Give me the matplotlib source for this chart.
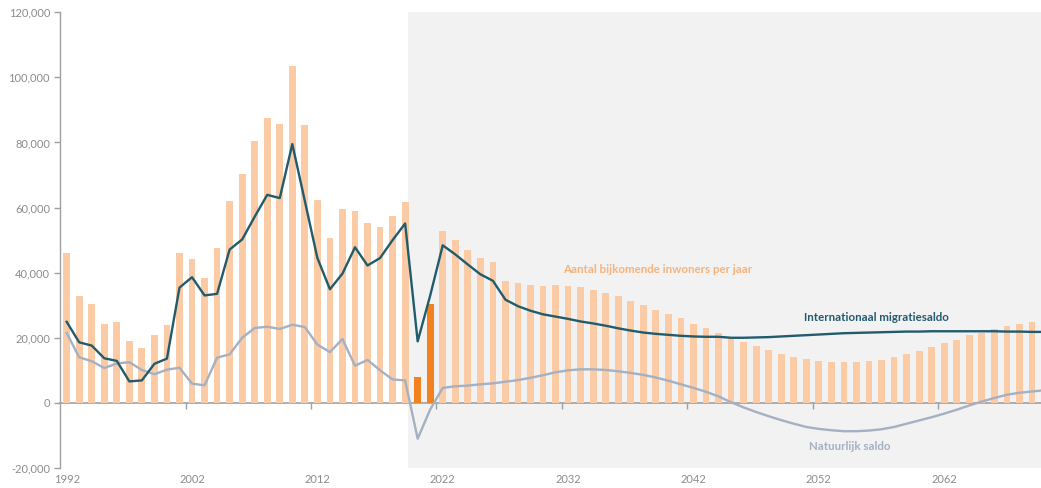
import matplotlib.pyplot as plt
from matplotlib.ticker import FuncFormatter

# jaren en reeksen (in duizenden)
years = list(range(1992, 2071))

bijkomend = [46.1, 32.7, 30.5, 24.2, 24.9, 19.0, 17.0, 20.8, 23.8, 46.1,
             44.3, 38.5, 47.7, 62.1, 70.2, 80.3, 87.5, 85.6, 103.5, 85.4,
             62.4, 50.5, 59.6, 58.9, 55.3, 53.9, 57.3, 61.8, 8.0, 30.3,
             52.7, 49.9, 47.1, 44.4, 43.2, 37.5, 36.7, 36.2, 36.0, 36.2,
             36.0, 35.5, 34.8, 33.9, 32.7, 31.4, 30.1, 28.6, 27.3, 26.0,
             24.3, 22.9, 21.5, 19.9, 18.7, 17.4, 16.3, 15.1, 14.2, 13.5,
             13.0, 12.6, 12.5, 12.6, 12.9, 13.3, 14.1, 15.0, 16.0, 17.2,
             18.3, 19.4, 20.7, 21.6, 22.7, 23.6, 24.3, 24.9]
highlight_years = [2020, 2021]

migratie = [24.9, 18.6, 17.6, 13.7, 12.9, 6.6, 6.9, 12.0, 13.6, 35.4,
            38.6, 33.0, 33.5, 47.1, 50.2, 57.2, 63.9, 62.9, 79.5, 62.0,
            44.5, 34.9, 39.7, 47.8, 42.2, 44.5, 50.0, 55.1, 18.9, 33.0,
            48.4, 45.6, 42.5, 39.5, 37.5, 31.7, 29.7, 28.3, 27.2, 26.5,
            25.8, 25.0, 24.4, 23.7, 22.9, 22.2, 21.6, 21.2, 20.9, 20.6,
            20.4, 20.3, 20.3, 20.0, 20.0, 20.1, 20.2, 20.4, 20.6, 20.8,
            21.0, 21.2, 21.4, 21.5, 21.6, 21.7, 21.8, 21.9, 21.9, 22.0,
            22.0, 22.0, 22.0, 22.0, 22.0, 21.9, 21.9, 21.8, 21.8]

natuurlijk = [21.5, 14.0, 12.8, 10.7, 12.1, 12.5, 10.1, 8.8, 10.2, 10.8,
              5.9, 5.4, 13.9, 14.9, 20.0, 23.0, 23.4, 22.7, 24.0, 23.3,
              17.9, 15.6, 19.6, 11.4, 13.2, 10.0, 7.2, 6.9, -11.0, -2.0,
              4.6, 5.1, 5.3, 5.7, 6.0, 6.5, 7.0, 7.7, 8.5, 9.4,
              10.0, 10.3, 10.3, 10.1, 9.7, 9.2, 8.6, 7.8, 6.8, 5.7,
              4.6, 3.4, 2.0, 0.2, -1.4, -2.8, -4.1, -5.3, -6.4, -7.4,
              -8.0, -8.4, -8.7, -8.7, -8.5, -8.1, -7.4, -6.4, -5.4, -4.4,
              -3.3, -2.1, -0.8, 0.4, 1.5, 2.5, 3.1, 3.5, 3.9]

forecast_start = 2019
tick_years = list(range(1992, 2071, 10))

plt.rcParams['font.family'] = ['Lato', 'DejaVu Sans']

fig = plt.figure(figsize=(10.41, 4.88), dpi=100)
ax = fig.add_axes([0.058, 0.041, 0.942, 0.934])

idx = list(range(len(years)))
bar_idx = idx[:len(bijkomend)]
bar_colors = ['#f28220' if years[i] in highlight_years else '#fbcba5' for i in bar_idx]

# prognose-gebied
ax.axvspan(years.index(forecast_start) + 0.22, 80, color='#f2f2f2', zorder=0, lw=0)

ax.bar(bar_idx, [v * 1000 for v in bijkomend], width=0.54, color=bar_colors, zorder=2)
ax.plot(idx, [v * 1000 for v in natuurlijk], color='#a5b0c2', lw=1.7, zorder=3)
ax.plot(idx, [v * 1000 for v in migratie], color='#215b6c', lw=1.7, zorder=4)

ax.set_xlim(-0.5, 77.72)
ax.set_ylim(-20000, 120000)
ax.set_yticks(range(-20000, 120001, 20000))
ax.yaxis.set_major_formatter(FuncFormatter(lambda v, p: f'{int(v):,}'))
ax.tick_params(axis='y', colors='#a0a0a0', labelcolor='#8c8c8c', labelsize=8, length=4, width=1)

ax.set_xticks([years.index(y) for y in tick_years])
ax.set_xticklabels([str(y) for y in tick_years])
ax.tick_params(axis='x', length=0, labelsize=8, labelcolor='#8c8c8c', pad=4)

for s in ['top', 'right', 'bottom']:
    ax.spines[s].set_visible(False)
ax.spines['left'].set_color('#a0a0a0')
ax.spines['left'].set_linewidth(1)

# nul-as met streepjes tussen de categorieen
zero_ax = ax.secondary_xaxis(20000 / 140000)
zero_ax.set_xticks([i + 9.5 for i in range(0, 78, 10)])
zero_ax.set_xticklabels([])
zero_ax.tick_params(length=4, width=1, color='#a0a0a0')
zero_ax.spines['bottom'].set_color('#a0a0a0')
zero_ax.spines['bottom'].set_linewidth(1.2)

ax.text(47.1, 41000, 'Aantal bijkomende inwoners per jaar', color='#f8b27a',
        fontsize=8.3, fontweight='bold', ha='center', va='center')
ax.text(64.6, 26300, 'Internationaal migratiesaldo', color='#215b6c',
        fontsize=8.3, fontweight='bold', ha='center', va='center')
ax.text(62.5, -13300, 'Natuurlijk saldo', color='#a5b0c2',
        fontsize=8.3, fontweight='bold', ha='center', va='center')

fig.savefig('out.png', dpi=100)
